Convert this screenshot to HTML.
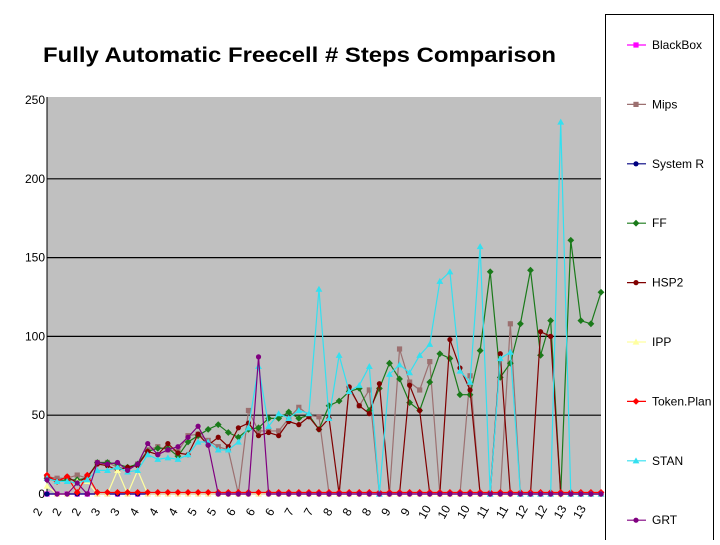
<!DOCTYPE html>
<html><head><meta charset="utf-8"><style>
body{margin:0;background:#fff;width:720px;height:540px;overflow:hidden;font-family:"Liberation Sans",sans-serif}
</style></head><body>
<svg id="chart" width="720" height="540" xmlns="http://www.w3.org/2000/svg" font-family="Liberation Sans, sans-serif">
<text x="43" y="62" font-size="21" font-weight="bold" fill="#000" textLength="513" lengthAdjust="spacingAndGlyphs">Fully Automatic Freecell # Steps Comparison</text>
<rect x="47" y="97" width="554" height="397" fill="#c0c0c0"/>
<g id="grid"></g><g id="yt"></g><g id="xt"></g><g id="series"></g>
<rect x="605.5" y="14.5" width="108" height="530" fill="#fff" stroke="#000"/>
<g id="legend"></g>
</svg>
<script>
const names=["BlackBox","Mips","System R","FF","HSP2","IPP","Token.Plan","STAN","GRT"];
const xLabels=["2","2","2","3","3","4","4","4","5","5","6","6","6","7","7","8","8","8","9","9","10","10","10","11","11","12","12","13","13"];
const yTicks=[0,50,100,150,200,250];
const blackBox=[0,0,0,0,0,0,0,0,0,0,0,0,0,0,0,0,0,0,0,0,0,0,0,0,0,0,0,0,0,0,0,0,0,0,0,0,0,0,0,0,0,0,0,0,0,0,0,0,0,0,0,0,0,0,0,0];
const mips=[11,10,10,12,10,20,20,17,16,19,28,30,28,27,37,38,34,30,28,0,53,40,40,40,48,55,50,49,0,0,67,56,66,0,0,92,71,66,84,0,0,0,75,0,0,0,108,0,0,0,0,0,0,0,0,0];
const systemR=[0,0,0,0,0,0,0,0,0,0,0,0,0,0,0,0,0,0,0,0,0,0,0,0,0,0,0,0,0,0,0,0,0,0,0,0,0,0,0,0,0,0,0,0,0,0,0,0,0,0,0,0,0,0,0,0];
const ff=[10,8,9,9,10,20,20,19,17,19,27,29,29,24,33,37,41,44,39,36,41,42,48,48,52,48,50,41,56,59,65,67,53,67,83,73,58,53,71,89,86,63,63,91,141,74,83,108,142,88,110,0,161,110,108,128];
const hsp2=[11,8,11,7,11,19,18,15,17,18,27,25,32,26,25,38,31,36,30,42,45,37,39,37,46,44,49,41,48,0,68,56,51,70,0,0,69,53,0,0,98,80,66,0,0,89,0,0,0,103,100,0,0,0,0,0];
const ipp=[5,0,0,8,8,0,0,15,0,15,0,0,0,0,0,0,0,0,0,0,0,0,0,0,0,0,0,0,0,0,0,0,0,0,0,0,0,0,0,0,0,0,0,0,0,0,0,0,0,0,0,0,0,0,0,0];
const tokenPlan=[12,8,11,1,12,1,1,1,1,1,1,1,1,1,1,1,1,1,1,1,1,1,1,1,1,1,1,1,1,1,1,1,1,1,1,1,1,1,1,1,1,1,1,1,1,1,1,1,1,1,1,1,1,1,1,1];
const stan=[10,8,8,7,9,15,15,17,14,15,25,22,23,22,25,33,33,28,28,33,42,81,43,51,48,53,51,130,48,88,65,69,81,0,76,82,77,88,95,135,141,78,71,157,0,86,90,0,0,0,0,236,0,0,0,0];
const grt=[9,0,0,7,0,20,19,20,15,19,32,25,28,30,36,43,31,0,0,0,0,87,0,0,0,0,0,0,0,0,0,0,0,0,0,0,0,0,0,0,0,0,0,0,0,0,0,0,0,0,0,0,0,0,0,0];
const data=[blackBox,mips,systemR,ff,hsp2,ipp,tokenPlan,stan,grt];
const colors=["#ff00ff","#9c7070","#000080","#1a7a1a","#800000","#ffffa0","#ff0000","#33e0f0","#800080"];
const markers=["square","square","circle","diamond","circle","triangle","diamond","triangle","circle"];
const NS="http://www.w3.org/2000/svg";
const X0=47,X1=601,Y0=494,Y1=100,YMAX=250;
const n=stan.length;
const xs=i=>X0+i*(X1-X0)/(n-1);
const ys=v=>Y0-v*(Y0-Y1)/YMAX;
function mk(tag,at,p){const e=document.createElementNS(NS,tag);for(const k in at)e.setAttribute(k,at[k]);p.appendChild(e);return e;}
const grid=document.getElementById('grid'),yt=document.getElementById('yt'),xt=document.getElementById('xt');
yTicks.forEach(t=>{
  if(t>0&&t<YMAX){const l=mk('line',{x1:X0,x2:X1,y1:ys(t),y2:ys(t),stroke:'#000','stroke-width':1.2},grid);
  
  }
  const tx=mk('text',{x:X0-2,y:ys(t)+4,'text-anchor':'end','font-size':12},yt);
  tx.textContent=t;
  
  
});
const ax=mk('line',{x1:X0,x2:X0,y1:Y1-3,y2:Y0,stroke:'#000'},grid);


const bx=mk('line',{x1:X0,x2:X1,y1:Y0,y2:Y0,stroke:'#000'},grid);


const LX0=41,LX1=583;
xLabels.forEach((s,i)=>{
  const x=LX0+i*(LX1-LX0)/(xLabels.length-1),y=514;
  const tx=mk('text',{x:x,y:y,'text-anchor':'middle','font-size':12,transform:`rotate(-60 ${x} ${y})`},xt);
  tx.textContent=s;
  
  
});
function marker(type,x,y,c,p){
  let e;const r=2.6;
  if(type==='square')e=mk('rect',{x:x-r,y:y-r,width:2*r,height:2*r,fill:c},p);
  else if(type==='circle')e=mk('circle',{cx:x,cy:y,r:r,fill:c},p);
  else if(type==='diamond')e=mk('polygon',{points:`${x},${y-3.4} ${x+3.4},${y} ${x},${y+3.4} ${x-3.4},${y}`,fill:c},p);
  else e=mk('polygon',{points:`${x},${y-3.4} ${x+3.4},${y+2.6} ${x-3.4},${y+2.6}`,fill:c},p);
  return e;
}
const sg=document.getElementById('series'),lg=document.getElementById('legend');
data.forEach((arr,si)=>{
  const g=mk('g',{},sg);
  
  
  const pl=mk('polyline',{points:arr.map((v,i)=>xs(i)+','+ys(v)).join(' '),fill:'none',stroke:colors[si],'stroke-width':1.2},g);
  
  
  arr.forEach((v,i)=>{const m=marker(markers[si],xs(i),ys(v),colors[si],g);
    
    });
  const ly=45+si*59.4;
  const le=mk('g',{},lg);
  
  
  mk('line',{x1:627,x2:646,y1:ly,y2:ly,stroke:colors[si],'stroke-width':1.2},le);
  marker(markers[si],636,ly,colors[si],le);
  const t=mk('text',{x:652,y:ly+4,'font-size':12},le);
  t.textContent=names[si];
});
</script>
</body></html>
